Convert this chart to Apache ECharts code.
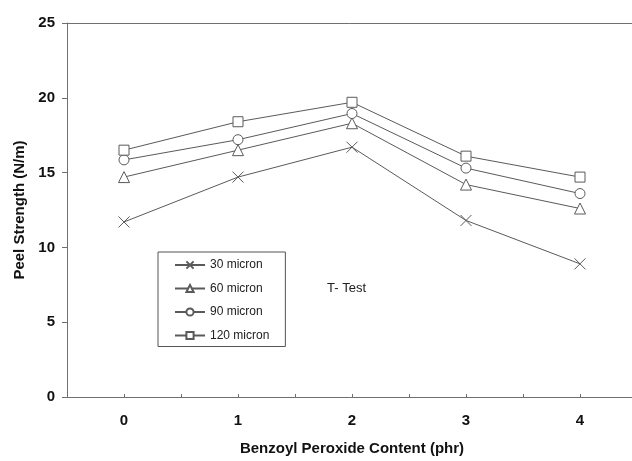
<!DOCTYPE html>
<html>
<head>
<meta charset="utf-8">
<script src="https://cdn.jsdelivr.net/npm/echarts@6/dist/echarts.min.js"></script>
<style>html,body{margin:0;padding:0;background:#fff}#c{width:632px;height:461px}</style>
</head>
<body>
<div id="c"></div>
<script>
var xValues = [0, 1, 2, 3, 4];
var seriesNames = ['30 micron', '60 micron', '90 micron', '120 micron'];
var micron30 = [11.7, 14.7, 16.7, 11.8, 8.9];
var micron60 = [14.7, 16.5, 18.3, 14.2, 12.6];
var micron90 = [15.85, 17.2, 18.95, 15.3, 13.6];
var micron120 = [16.5, 18.4, 19.7, 16.1, 14.7];
var yTicks = [0, 5, 10, 15, 20, 25];
var annotation = 'T- Test';

var allValues = [micron30, micron60, micron90, micron120];
var symbols = ['path://M0 0L10 10M10 0L0 10', 'triangle', 'circle', 'rect'];
var sizes = [11, 11, 10, 10];
var lineColor = '#5a5a5a';
var font = '"Liberation Sans", Arial, sans-serif';

function pairs(vals) { return xValues.map(function (x, i) { return [x, vals[i]]; }); }

var series = seriesNames.map(function (name, k) {
  return {
    name: name,
    type: 'line',
    data: pairs(allValues[k]),
    symbol: symbols[k],
    symbolSize: sizes[k],
    showAllSymbol: true,
    lineStyle: { color: lineColor, width: 1 },
    itemStyle: { color: '#fff', borderColor: lineColor, borderWidth: 1 },
    emphasis: { disabled: true },
    animation: false,
    z: 3
  };
});

var chart = echarts.init(document.getElementById('c'), null, { renderer: 'canvas' });
chart.setOption({
  backgroundColor: '#fff',
  animation: false,
  textStyle: { fontFamily: font },
  grid: { left: 67, width: 570, top: 23, bottom: 64, containLabel: false, outerBoundsMode: 'none' },
  xAxis: [{
    type: 'value',
    min: -0.5, max: 4.5, interval: 0.5,
    position: 'bottom',
    name: 'Benzoyl Peroxide Content (phr)',
    nameLocation: 'middle',
    nameGap: 44,
    nameTextStyle: { fontSize: 15, fontWeight: 'bold', color: '#111', fontFamily: font },
    axisLine: { show: true, onZero: false, lineStyle: { color: '#707070', width: 1 } },
    axisTick: { show: true, inside: true, length: 3, lineStyle: { color: '#707070' } },
    axisLabel: {
      margin: 16, fontSize: 15, fontWeight: 'bold', color: '#111', fontFamily: font,
      formatter: function (v) { return (Math.abs(v - Math.round(v)) < 1e-6 && v >= 0) ? String(Math.round(v)) : ''; }
    },
    splitLine: { show: false }
  }, {
    type: 'value',
    min: -0.5, max: 4.5,
    position: 'top',
    axisLine: { show: true, onZero: false, lineStyle: { color: '#707070', width: 1 } },
    axisTick: { show: false },
    axisLabel: { show: false },
    splitLine: { show: false }
  }],
  yAxis: {
    type: 'value',
    min: yTicks[0], max: yTicks[yTicks.length - 1], interval: 5,
    name: 'Peel Strength (N/m)',
    nameLocation: 'middle',
    nameGap: 40,
    nameTextStyle: { fontSize: 15, fontWeight: 'bold', color: '#111', fontFamily: font },
    axisLine: { show: true, onZero: false, lineStyle: { color: '#707070', width: 1 } },
    axisTick: { show: true, inside: false, length: 5, lineStyle: { color: '#707070' } },
    axisLabel: { margin: 12, fontSize: 15, fontWeight: 'bold', color: '#111', fontFamily: font },
    splitLine: { show: false }
  },
  legend: {
    data: seriesNames,
    orient: 'vertical',
    left: 158, top: 252,
    padding: [7, 16, 5, 16],
    itemWidth: 30, itemHeight: 9,
    itemGap: 11.5,
    borderColor: '#555', borderWidth: 1,
    selectedMode: false,
    textStyle: { fontSize: 12, color: '#222', fontFamily: font }
  },
  graphic: [{
    type: 'text',
    left: 327, top: 282,
    style: { text: annotation, fontSize: 13, fill: '#222', fontFamily: font }
  }],
  series: series
});
</script>
</body>
</html>
